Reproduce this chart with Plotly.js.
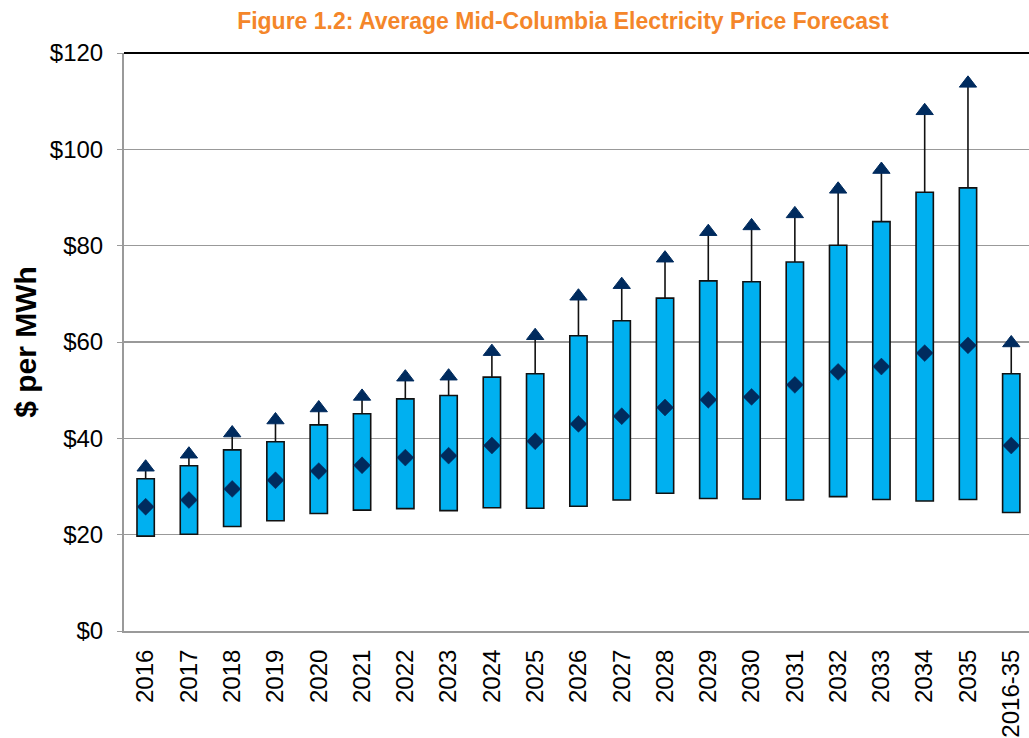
<!DOCTYPE html>
<html><head><meta charset="utf-8">
<script src="https://cdn.plot.ly/plotly-3.0.1.min.js"></script>
<style>html,body{margin:0;padding:0;background:#fff}#chart{width:1029px;height:738px}</style>
</head><body><div id="chart"></div>
<script>
const years = ['2016','2017','2018','2019','2020','2021','2022','2023','2024','2025','2026','2027','2028','2029','2030','2031','2032','2033','2034','2035','2016-35'];
const lowPrice  = [19.7,20.1,21.7,22.9,24.4,25.1,25.4,25.0,25.6,25.5,25.9,27.2,28.6,27.5,27.4,27.2,27.9,27.3,27.0,27.3,24.6];
const highPrice = [31.6,34.3,37.6,39.3,42.8,45.1,48.2,48.9,52.7,53.4,61.3,64.4,69.1,72.7,72.5,76.6,80.1,85.0,91.1,92.0,53.4];
const avgPrice  = [25.8,27.2,29.5,31.3,33.2,34.4,36.0,36.4,38.5,39.4,43.0,44.6,46.4,48.0,48.6,51.1,53.8,54.9,57.7,59.3,38.5];
const maxPrice  = [34.0,36.7,41.1,43.8,46.3,48.7,52.7,52.9,58.0,61.3,69.5,71.9,77.4,82.9,84.1,86.6,91.7,95.8,108.0,113.7,59.8];
const yTickVals = [0,20,40,60,80,100,120];
const yTickText = ['$0','$20','$40','$60','$80','$100','$120'];

const barHeights = highPrice.map((h,i)=>h-lowPrice[i]);
const whiskerDown = maxPrice.map((m,i)=>m-highPrice[i]);
const zeros = maxPrice.map(()=>0);
const navy = '#002B5E';

const traces = [
  {type:'bar', x:years, y:barHeights, base:lowPrice, width:0.4,
   marker:{color:'#00B0F0', line:{color:'#111111', width:1.6}}, hoverinfo:'skip'},
  {type:'scatter', mode:'markers', x:years, y:maxPrice,
   marker:{symbol:'triangle-up', size:15, color:navy, line:{color:navy, width:1}},
   error_y:{type:'data', symmetric:false, array:zeros, arrayminus:whiskerDown, width:0, thickness:1.6, color:'#111111'}},
  {type:'scatter', mode:'markers', x:years, y:avgPrice,
   marker:{symbol:'diamond', size:13, color:navy, line:{color:navy, width:0.5}}}
];

const layout = {
  width:1029, height:738,
  margin:{l:124, r:0, t:53, b:107},
  paper_bgcolor:'#ffffff', plot_bgcolor:'#ffffff',
  showlegend:false,
  font:{family:'"Liberation Sans", Arial, sans-serif', color:'#000'},
  title:{text:'<b>Figure 1.2: Average Mid-Columbia Electricity Price Forecast</b>',
    font:{family:'"Liberation Sans", Arial, sans-serif', size:23, color:'#F4862A'},
    x:0.547, xanchor:'center', y:0.9715, yanchor:'middle'},
  xaxis:{type:'category', range:[-0.5,20.41], tickangle:-90,
    tickfont:{size:24, color:'#000'}, showline:true, linecolor:'#9A9A9A', linewidth:2,
    ticks:'', showgrid:false, zeroline:false, ticklabelstandoff:7, fixedrange:true},
  yaxis:{range:[0,120], tickvals:yTickVals, ticktext:yTickText,
    tickfont:{size:24, color:'#000'}, showgrid:true, gridcolor:'#999999', gridwidth:1.5,
    showline:true, linecolor:'#9A9A9A', linewidth:2, ticks:'outside', ticklen:5, tickcolor:'#9A9A9A',
    zeroline:false, ticklabelstandoff:9, fixedrange:true,
    title:{text:'<b>$ per MWh</b>', font:{size:30, color:'#000'}, standoff:4}},
  shapes:[{type:'line', xref:'paper', yref:'paper', x0:0, x1:1, y0:1, y1:1, line:{color:'#000', width:2}}]
};

Plotly.newPlot('chart', traces, layout, {displayModeBar:false, staticPlot:true});
</script>
</body></html>
